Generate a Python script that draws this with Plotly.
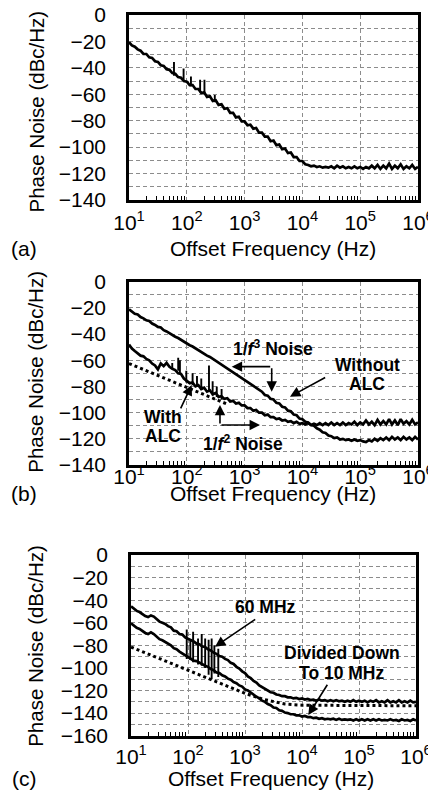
import plotly.graph_objects as go

# ---------------- data ----------------
FREQ = [10, 11.22, 12.59, 14.13, 15.85, 17.78, 19.95, 22.39, 25.12, 28.18,
        31.62, 35.48, 39.81, 44.67, 50.12, 56.23, 63.10, 70.79, 79.43, 89.13,
        100, 112.2, 125.9, 141.3, 158.5, 177.8, 199.5, 223.9, 251.2, 281.8,
        316.2, 354.8, 398.1, 446.7, 501.2, 562.3, 631.0, 707.9, 794.3, 891.3,
        1000, 1122, 1259, 1413, 1585, 1778, 1995, 2239, 2512, 2818,
        3162, 3548, 3981, 4467, 5012, 5623, 6310, 7079, 7943, 8913,
        10000, 11220, 12590, 14130, 15850, 17780, 19950, 22390, 25120, 28180,
        31620, 35480, 39810, 44670, 50120, 56230, 63100, 70790, 79430, 89130,
        100000, 112200, 125900, 141300, 158500, 177800, 199500, 223900, 251200, 281800,
        316200, 354800, 398100, 446700, 501200, 562300, 631000, 707900, 794300, 891300,
        1000000]

# (a) phase noise
A_PN = [-20.5, -23.0, -24.0, -26.0, -27.0, -29.5, -29.5, -32.0, -32.5, -35.0,
        -35.5, -38.0, -38.5, -41.0, -41.5, -44.0, -44.5, -47.0, -47.5, -50.0,
        -50.5, -53.0, -53.0, -56.0, -56.0, -59.0, -58.5, -62.0, -61.5, -65.0,
        -64.5, -68.0, -67.5, -71.0, -70.5, -74.0, -74.0, -77.5, -77.0, -80.5,
        -80.5, -83.5, -83.0, -86.0, -85.5, -89.0, -89.0, -92.0, -92.0, -95.5,
        -95.0, -98.5, -98.0, -101.5, -101.0, -104.5, -104.0, -107.5, -107.5, -110.5,
        -110.5, -113.0, -113.5, -114.5, -114.0, -115.0, -114.5, -115.5, -115.0, -115.5,
        -114.5, -116.0, -114.0, -115.5, -114.5, -116.0, -115.0, -116.0, -114.5, -116.0,
        -115.0, -116.5, -115.0, -116.0, -114.0, -116.0, -113.5, -116.5, -114.0, -116.0,
        -112.5, -116.5, -114.0, -116.0, -113.0, -116.5, -114.5, -116.0, -113.5, -116.5,
        -115.0]
A_SPUR_F = [60, 88, 118, 170, 202, 305]
A_SPUR_TOP = [-35.5, -40.5, -46.5, -49.0, -49.0, -60.5]
A_SPUR_BASE = [-46.0, -50.5, -54.0, -58.5, -60.5, -66.0]

# (b) without / with ALC
B_WITHOUT = [-21.0, -22.5, -24.5, -25.0, -27.0, -28.0, -29.5, -30.0, -32.0, -33.0,
             -34.5, -35.0, -37.0, -38.0, -39.5, -40.5, -42.0, -43.0, -44.5, -45.5,
             -47.0, -48.5, -49.5, -51.0, -52.5, -53.5, -55.0, -56.5, -57.5, -59.0,
             -60.5, -61.5, -63.5, -64.5, -66.0, -68.0, -69.0, -71.0, -72.0, -74.0,
             -75.0, -77.0, -78.0, -80.0, -81.0, -83.0, -84.0, -86.5, -87.0, -89.5,
             -90.0, -92.5, -93.0, -95.5, -96.0, -98.5, -99.0, -101.5, -102.0, -104.5,
             -105.0, -107.0, -107.5, -109.5, -110.0, -112.0, -113.0, -115.0, -115.5, -117.5,
             -118.0, -119.5, -119.0, -120.5, -120.0, -121.0, -120.5, -121.5, -120.5, -121.5,
             -121.0, -122.0, -122.5, -121.0, -122.0, -120.0, -121.5, -119.5, -121.0, -119.0,
             -121.0, -118.5, -120.5, -119.0, -121.0, -118.5, -120.5, -119.0, -121.0, -118.5,
             -120.5]
B_WITH = [-48.0, -51.0, -53.0, -54.5, -56.5, -57.0, -59.0, -60.0, -62.5, -64.0,
          -67.0, -62.5, -64.5, -62.0, -65.0, -66.5, -67.5, -70.0, -70.5, -74.0,
          -75.5, -77.5, -77.0, -80.0, -79.0, -82.0, -81.0, -84.0, -83.0, -86.0,
          -85.0, -88.0, -87.5, -89.5, -89.0, -91.5, -91.0, -93.0, -92.5, -94.5,
          -94.5, -96.5, -96.5, -98.5, -98.0, -100.0, -100.0, -102.0, -101.5, -103.5,
          -103.5, -105.0, -104.5, -106.0, -105.5, -107.0, -106.5, -108.0, -107.0, -108.5,
          -108.0, -109.0, -108.0, -109.5, -108.5, -109.5, -108.0, -109.5, -108.0, -109.5,
          -107.5, -109.5, -108.0, -109.5, -107.5, -109.5, -108.0, -109.0, -107.0, -109.5,
          -107.5, -109.0, -106.0, -109.0, -107.0, -109.5, -105.5, -109.0, -106.5, -109.0,
          -105.0, -109.0, -106.0, -109.5, -105.0, -108.5, -106.5, -109.0, -105.5, -109.0,
          -107.5]
B_SPUR_F = [56, 71, 76, 98, 126, 150, 178, 242, 280, 330, 400]
B_SPUR_TOP = [-62.0, -58.0, -60.0, -68.0, -70.0, -72.0, -74.0, -64.0, -76.0, -80.0, -82.0]
B_SPUR_BASE = [-66.0, -68.0, -70.0, -77.0, -79.0, -80.0, -82.0, -84.0, -87.0, -88.0, -90.0]
B_DOT_F = [10, 100, 500]
B_DOT = [-62.5, -80.5, -93.5]

# (c) 60 MHz / divided down to 10 MHz
C_60 = [-45.5, -47.5, -49.5, -50.5, -52.5, -54.0, -55.0, -53.5, -54.5, -57.0,
        -59.0, -60.0, -61.0, -63.0, -64.0, -67.0, -67.5, -70.0, -70.5, -73.0,
        -74.0, -75.5, -76.5, -78.5, -79.0, -81.0, -81.5, -83.5, -84.5, -86.5,
        -87.5, -89.5, -90.0, -92.0, -93.0, -95.5, -96.5, -99.0, -100.5, -103.0,
        -104.5, -107.5, -109.0, -111.5, -113.0, -115.5, -117.0, -119.0, -120.0, -121.5,
        -122.0, -123.5, -124.0, -125.0, -125.0, -126.0, -126.0, -127.0, -126.5, -127.5,
        -127.0, -128.0, -127.5, -128.5, -128.0, -129.0, -128.0, -129.0, -128.5, -129.5,
        -128.5, -129.5, -128.5, -129.5, -129.0, -130.0, -129.0, -130.0, -128.5, -130.0,
        -129.0, -130.0, -129.0, -130.5, -129.0, -130.0, -128.5, -130.5, -129.5, -130.5,
        -128.5, -130.5, -129.5, -130.5, -128.5, -130.5, -129.5, -130.5, -129.0, -130.5,
        -130.0]
C_10 = [-60.5, -62.5, -64.5, -65.5, -67.5, -69.0, -70.0, -68.5, -70.0, -72.5,
        -74.5, -75.5, -77.0, -78.5, -80.0, -82.5, -83.5, -85.5, -87.0, -89.0,
        -90.5, -91.5, -93.5, -94.0, -95.5, -96.5, -98.0, -99.0, -101.0, -102.0,
        -104.0, -104.5, -106.5, -107.5, -109.5, -110.5, -112.5, -113.5, -115.5, -116.5,
        -119.0, -120.0, -122.0, -123.5, -125.5, -127.0, -129.0, -130.0, -132.0, -133.0,
        -135.0, -135.5, -137.5, -138.0, -139.5, -140.0, -141.0, -141.0, -142.0, -142.0,
        -143.0, -142.5, -143.5, -143.5, -144.5, -144.0, -145.0, -144.5, -145.5, -145.0,
        -145.5, -145.0, -146.0, -145.0, -146.0, -145.5, -146.0, -145.5, -146.5, -145.5,
        -146.5, -145.5, -146.5, -145.5, -146.5, -145.5, -146.5, -145.5, -146.5, -146.0,
        -146.5, -145.5, -146.5, -146.0, -147.0, -145.5, -146.5, -146.0, -147.0, -145.5,
        -146.5]
C_SPUR_F = [95, 110, 123, 150, 174, 200, 230, 260, 290, 340]
C_SPUR_TOP = [-66.0, -76.0, -68.0, -74.0, -70.0, -74.0, -75.0, -74.0, -80.0, -83.0]
C_SPUR_BASE = [-92.0, -93.0, -95.0, -97.0, -98.0, -100.0, -106.0, -110.0, -105.0, -108.0]
C_DOT_F = [10, 100, 1000, 2000, 3162, 5012, 10000, 100000, 1000000]
C_DOT = [-81.5, -102.0, -122.5, -127.5, -130.0, -132.0, -133.0, -133.5, -133.5]

X_TICKS = [10, 100, 1000, 10000, 100000, 1000000]
X_TICKTEXT = ["10<sup>1</sup>", "10<sup>2</sup>", "10<sup>3</sup>",
              "10<sup>4</sup>", "10<sup>5</sup>", "10<sup>6</sup>"]

FONT = "Liberation Sans, Arial, Helvetica, sans-serif"

# ---------------- figure ----------------
fig = go.Figure()


def line(x, y, xa, ya, dash=None, width=2.7):
    fig.add_trace(go.Scatter(x=x, y=y, mode="lines", xaxis=xa, yaxis=ya,
                             line=dict(color="black", width=width, dash=dash),
                             showlegend=False, hoverinfo="skip"))


def spurs(freqs, bases, tops, xa, ya):
    xs, ys = [], []
    for f, b, t in zip(freqs, bases, tops):
        xs += [f, f, None]
        ys += [b, t, None]
    fig.add_trace(go.Scatter(x=xs, y=ys, mode="lines", xaxis=xa, yaxis=ya,
                             line=dict(color="black", width=1.9),
                             showlegend=False, hoverinfo="skip"))


line(FREQ, A_PN, "x", "y")
spurs(A_SPUR_F, A_SPUR_BASE, A_SPUR_TOP, "x", "y")

line(FREQ, B_WITHOUT, "x2", "y2")
line(FREQ, B_WITH, "x2", "y2")
spurs(B_SPUR_F, B_SPUR_BASE, B_SPUR_TOP, "x2", "y2")
line(B_DOT_F, B_DOT, "x2", "y2", dash="dot", width=3)

line(FREQ, C_60, "x3", "y3")
line(FREQ, C_10, "x3", "y3")
spurs(C_SPUR_F, C_SPUR_BASE, C_SPUR_TOP, "x3", "y3")
line(C_DOT_F, C_DOT, "x3", "y3", dash="dot", width=3)

minor_vals = [m * d for d in [10, 100, 1000, 10000, 100000] for m in range(2, 10)]
GRID = dict(showgrid=True, gridcolor="#8c8c8c", gridwidth=1, griddash="4px,3px")


def xaxis_cfg(domain, anchor, standoff):
    return dict(type="log", range=[1, 6], domain=domain, anchor=anchor,
                automargin=False,
                tickvals=X_TICKS, ticktext=X_TICKTEXT,
                ticks="", ticklabelstandoff=standoff, ticklabeloverflow="allow",
                tickfont=dict(family=FONT, size=21, color="black"),
                showline=True, linecolor="black", linewidth=2.5, mirror=True,
                zeroline=False,
                minor=dict(tickvals=minor_vals, ticks="inside", ticklen=4,
                           tickwidth=1, tickcolor="black", showgrid=False),
                **GRID)


def yaxis_cfg(domain, anchor, lo):
    return dict(range=[lo, 0], domain=domain, anchor=anchor,
                automargin=False,
                tick0=0, dtick=20,
                ticks="outside", ticklen=16, tickcolor="rgba(0,0,0,0)",
                tickfont=dict(family=FONT, size=21, color="black"),
                showline=True, linecolor="black", linewidth=2.5, mirror=True,
                zeroline=False,
                minor=dict(tick0=0, dtick=10, ticks="", **GRID),
                **GRID)


W, H = 428, 806
fig.update_layout(
    width=W, height=H, margin=dict(l=0, r=0, t=0, b=0, autoexpand=False),
    paper_bgcolor="white", plot_bgcolor="white",
    xaxis=xaxis_cfg([129 / W, 418 / W], "y", 2),
    yaxis=yaxis_cfg([1 - 200 / H, 1 - 15 / H], "x", -140),
    xaxis2=xaxis_cfg([129 / W, 418 / W], "y2", -9),
    yaxis2=yaxis_cfg([1 - 465 / H, 1 - 281.7 / H], "x2", -140),
    xaxis3=xaxis_cfg([131 / W, 416 / W], "y3", 0),
    yaxis3=yaxis_cfg([1 - 735.7 / H, 1 - 555 / H], "x3", -160),
)

ann = []
# axis titles and panel labels (paper coordinates)
for yc in [111.5, 371.7, 645.8]:
    ann.append(dict(text="Phase Noise (dBc/Hz)", x=36 / W, y=1 - yc / H, xref="paper", yref="paper",
                    textangle=-90, showarrow=False, font=dict(family=FONT, size=20.5, color="black"),
                    xanchor="center", yanchor="middle"))
for xc, yc, lab in [(272.5, 248.3, "(a)"), (272.5, 493.3, "(b)"), (270.8, 778.3, "(c)")]:
    ann.append(dict(text="Offset Frequency (Hz)", x=xc / W, y=1 - yc / H, xref="paper", yref="paper",
                    showarrow=False, font=dict(family=FONT, size=21, color="black"),
                    xanchor="center", yanchor="middle"))
    ann.append(dict(text=lab, x=24 / W, y=1 - yc / H, xref="paper", yref="paper",
                    showarrow=False, font=dict(family=FONT, size=21, color="black"),
                    xanchor="center", yanchor="middle"))

BF = dict(family=FONT, size=17.5, color="black")


def label(text, x, y, xr, yr):
    ann.append(dict(text="<b>" + text + "</b>", x=x, y=y, xref=xr, yref=yr,
                    showarrow=False, font=BF, xanchor="center", yanchor="middle"))


def arrow(x0, y0, x1, y1, xr, yr):
    ann.append(dict(text="", x=x1, y=y1, ax=x0, ay=y0, xref=xr, yref=yr, axref=xr, ayref=yr,
                    showarrow=True, arrowhead=2, arrowsize=1.3, arrowwidth=1.6,
                    arrowcolor="black", standoff=0, startstandoff=0))


# panel (b)
label("1/<i>f</i><sup>3</sup> Noise", 3.483, -50.8, "x2", "y2")
label("Without", 5.126, -63.6, "x2", "y2")
label("ALC", 5.126, -78.1, "x2", "y2")
label("With", 1.580, -103.1, "x2", "y2")
label("ALC", 1.580, -117.8, "x2", "y2")
label("1/<i>f</i><sup>2</sup> Noise", 2.964, -122.9, "x2", "y2")
arrow(3.469, -64.9, 2.777, -64.9, "x2", "y2")
arrow(3.469, -64.9, 3.469, -84.0, "x2", "y2")
arrow(2.574, -109.4, 2.574, -94.1, "x2", "y2")
arrow(2.574, -109.4, 3.266, -109.4, "x2", "y2")
arrow(1.882, -97.9, 2.085, -78.9, "x2", "y2")
arrow(4.420, -72.5, 3.785, -87.8, "x2", "y2")

# panel (c)
label("60 MHz", 3.365, -45.8, "x3", "y3")
label("Divided Down", 4.696, -86.5, "x3", "y3")
label("To 10 MHz", 4.696, -104.8, "x3", "y3")
arrow(3.205, -56.1, 2.474, -81.2, "x3", "y3")
arrow(4.461, -113.6, 4.111, -141.7, "x3", "y3")

fig.update_layout(annotations=ann)
fig.write_html("out.html")
